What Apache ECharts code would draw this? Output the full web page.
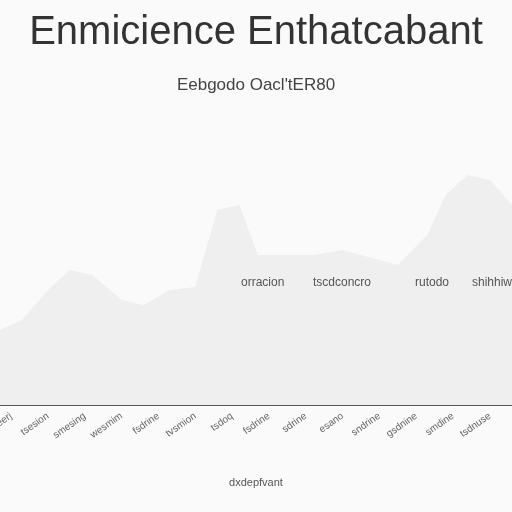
<!DOCTYPE html><html><head><meta charset="utf-8"><script src="https://cdn.jsdelivr.net/npm/echarts@6/dist/echarts.min.js"></script></head><body style="margin:0;background:#fff"><div id="c" style="width:512px;height:512px"></div><script>
var labels=['dsbeerj','tsesion','smesing','wesmim','fsdrine','tvsmion','tsdoq','fsdrine','sdrine','esano','sndrine','gsdnine','smdine','tsdnuse'];
var xs=[-0.3,0.3,1,1.6,2.2,3,3.6,4.3,5,5.6,6.2,6.7,7.3,8.2,9,9.5,10.5,11.3,11.8,12.4,13,13.6];
var vals=[75,85,115,135,130,105,100,115,118,195,200,150,150,150,155,150,140,170,210,230,225,200];
var notes=['orracion','tscdconcro','rutodo','shihhiww'];
var c=echarts.init(document.getElementById('c'));
c.setOption({animation:false,backgroundColor:'#fafafa',
title:[{text:'Enmicience Enthatcabant',left:'center',top:8,textStyle:{fontFamily:'Liberation Sans',fontSize:40,fontWeight:'normal',color:'#333'}},
{text:'Eebgodo Oacl\'tER80',left:'center',top:72,textStyle:{fontFamily:'Liberation Sans',fontSize:17,fontWeight:'normal',color:'#444'}}],
grid:{left:0,right:0,top:155,bottom:107,containLabel:false,outerBoundsMode:'none'},
xAxis:{type:'value',min:-0.3,max:13.6,interval:1,splitLine:{show:false},axisTick:{show:false},
 axisLine:{show:true,onZero:false,lineStyle:{color:'#555',width:2}},
 axisLabel:{rotate:35,color:'#666',fontSize:10,margin:10,customValues:[0,1,2,3,4,5,6,7,8,9,10,11,12,13],formatter:function(v){return labels[Math.round(v)]||'';}},
 name:'dxdepfvant',nameLocation:'middle',nameGap:72,nameTextStyle:{color:'#555',fontSize:11}},
yAxis:{type:'value',min:0,max:250,show:false},
series:[{type:'line',data:xs.map(function(x,i){return [x,vals[i]];}),symbol:'none',lineStyle:{width:0},areaStyle:{color:'#efefef',opacity:1}}],
graphic:{elements:notes.map(function(t,i){return {type:'text',z:100,x:[241,313,415,472][i],y:277,style:{text:t,fill:'#555',fontSize:12,fontFamily:'Liberation Sans'}};})}
});
</script></body></html>
